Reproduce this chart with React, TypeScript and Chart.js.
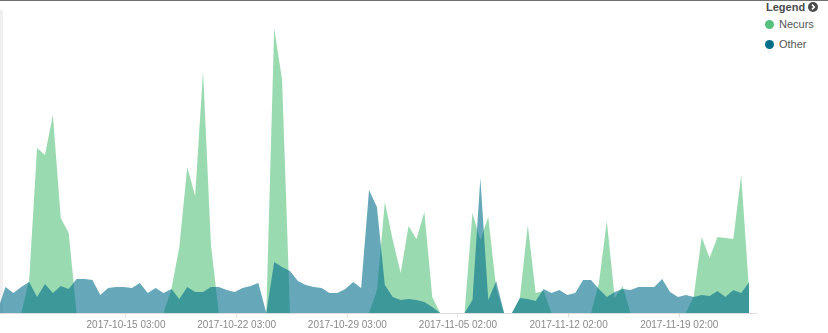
import React, { useEffect, useRef } from "react";
import { Chart, registerables } from "chart.js";

Chart.register(...registerables);

// ---- data (12-hour buckets) ----
const seriesNames = ["Necurs", "Other"];
const seriesColors = ["#57c17b", "#006e8a"];

const necursValues = [
  0, 0, 0, 0, 33, 165, 158, 198, 95, 80,
  0, 0, 0, 0, 0, 0, 0, 0, 0, 0,
  0, 0, 24, 66, 146, 117, 242, 68, 0, 0,
  0, 0, 0, 0, 0, 285, 233, 0, 0, 0,
  0, 0, 0, 0, 0, 0, 0, 0, 23, 111,
  73, 40, 87, 74, 101, 16, 0, 0, 0, 0,
  100, 73, 96, 25, 0, 0, 15, 88, 20, 22,
  0, 0, 0, 0, 0, 0, 30, 92, 15, 27,
  0, 0, 0, 0, 0, 0, 0, 0, 17, 76,
  55, 76, 75, 74, 138, 22,
];

const otherValues = [
  2, 26, 20, 26, 31, 16, 29, 20, 27, 24,
  34, 34, 33, 18, 25, 26, 26, 25, 30, 20,
  25, 20, 24, 14, 26, 21, 21, 26, 26, 23,
  21, 25, 27, 30, 0, 51, 46, 42, 32, 28,
  26, 25, 20, 20, 24, 31, 25, 123, 106, 28,
  16, 13, 14, 13, 11, 6, 0, 0, 0, 0,
  13, 135, 13, 32, 0, 0, 15, 14, 12, 24,
  20, 23, 18, 20, 33, 33, 24, 16, 21, 24,
  23, 26, 26, 26, 34, 21, 16, 18, 16, 18,
  17, 22, 16, 23, 20, 31,
];

const firstBucket = "2017-10-07 00:00";
const bucketHours = 12;
const rangeStart = "2017-10-07 03:44";
const rangeEnd = "2017-11-24 00:00";

const tickLabels = [
  "2017-10-15 03:00",
  "2017-10-22 03:00",
  "2017-10-29 03:00",
  "2017-11-05 02:00",
  "2017-11-12 02:00",
  "2017-11-19 02:00",
];

const yMax = 303;

// ---- helpers ----
const HOUR = 3600000;
const dstEnd = Date.parse("2017-11-05T02:00:00-04:00");
function localToMs(s: string): number {
  const iso = s.replace(" ", "T") + ":00";
  const edt = Date.parse(iso + "-04:00");
  return edt >= dstEnd ? Date.parse(iso + "-05:00") : edt;
}
const originMs = localToMs(firstBucket);
const toHours = (ms: number) => (ms - originMs) / HOUR;

const bucketX = necursValues.map((_, i) => {
  const naive = originMs + i * bucketHours * HOUR;
  return toHours(naive >= dstEnd ? naive + HOUR : naive);
});
const tickX = tickLabels.map((l) => toHours(localToMs(l)));
const xMin = toHours(localToMs(rangeStart));
const xMax = toHours(localToMs(rangeEnd));

function rgba(hex: string, a: number) {
  const n = parseInt(hex.slice(1), 16);
  return `rgba(${(n >> 16) & 255},${(n >> 8) & 255},${n & 255},${a})`;
}

const FONT = "'Liberation Sans', Arial, Helvetica, sans-serif";

export default function App() {
  const canvasRef = useRef<HTMLCanvasElement | null>(null);

  useEffect(() => {
    const canvas = canvasRef.current;
    if (!canvas) return;
    const series = [necursValues, otherValues];
    const chart = new Chart(canvas, {
      type: "line",
      data: {
        datasets: series.map((vals, s) => ({
          label: seriesNames[s],
          data: vals.map((v, i) => ({ x: bucketX[i], y: v })),
          backgroundColor: rgba(seriesColors[s], 0.6),
          borderColor: "rgba(0,0,0,0)",
          borderWidth: 0,
          fill: "origin",
          pointRadius: 0,
          pointHoverRadius: 0,
          tension: 0,
          order: s === 0 ? 1 : 0,
        })),
      },
      options: {
        responsive: false,
        animation: false,
        events: [],
        layout: { padding: { top: 10, bottom: 0, left: 0, right: 0 } },
        plugins: {
          legend: { display: false },
          tooltip: { enabled: false },
        },
        scales: {
          x: {
            type: "linear",
            min: xMin,
            max: xMax,
            afterBuildTicks: (scale: any) => {
              scale.ticks = tickX.map((v) => ({ value: v }));
            },
            ticks: {
              autoSkip: false,
              maxRotation: 0,
              minRotation: 0,
              padding: 3,
              color: "#8a8a8a",
              font: { family: FONT, size: 10, lineHeight: 1 },
              callback: (_v: any, i: number) => tickLabels[i],
            },
            grid: {
              drawOnChartArea: false,
              drawTicks: true,
              tickLength: 4,
              color: "#dddddd",
            },
            border: { display: true, color: "#dddddd", width: 1 },
          },
          y: { display: false, min: 0, max: yMax },
        },
      },
    } as any);
    return () => chart.destroy();
  }, []);

  const legendItems = seriesNames.map((name, i) => ({ name, color: seriesColors[i] }));

  return (
    <div
      style={{
        position: "fixed",
        left: 0,
        top: 0,
        width: 828,
        height: 333,
        overflow: "hidden",
        background: "#ffffff",
        fontFamily: FONT,
      }}
    >
      <div style={{ position: "absolute", left: 0, top: 0, width: 828, height: 1, background: "#707070" }} />
      <div style={{ position: "absolute", left: 0, top: 10, width: 3, height: 303, background: "#f0f0f0" }} />
      <canvas
        ref={canvasRef}
        width={757}
        height={333}
        style={{ position: "absolute", left: 0, top: 0, width: 757, height: 333 }}
      />
      <div
        style={{
          position: "absolute",
          left: 766,
          top: 1,
          height: 13,
          lineHeight: "13px",
          fontSize: 11,
          fontWeight: "bold",
          color: "#4a4a4a",
          whiteSpace: "nowrap",
        }}
      >
        Legend
      </div>
      <svg
        width={10}
        height={10}
        viewBox="0 0 10 10"
        style={{ position: "absolute", left: 808, top: 2 }}
      >
        <circle cx={5} cy={5} r={5} fill="#4a4a4a" />
        <path d="M4 2.6 L6.3 5 L4 7.4" stroke="#ffffff" strokeWidth={1.6} fill="none" />
      </svg>
      {legendItems.map((it, i) => (
        <div
          key={it.name}
          style={{ position: "absolute", left: 765, top: 17 + i * 20, height: 15, width: 63 }}
        >
          <div
            style={{
              position: "absolute",
              left: 0,
              top: 3,
              width: 9,
              height: 9,
              borderRadius: "50%",
              background: it.color,
            }}
          />
          <div
            style={{
              position: "absolute",
              left: 14,
              top: 0,
              height: 15,
              lineHeight: "15px",
              fontSize: 11,
              color: "#555555",
              whiteSpace: "nowrap",
            }}
          >
            {it.name}
          </div>
        </div>
      ))}
    </div>
  );
}
